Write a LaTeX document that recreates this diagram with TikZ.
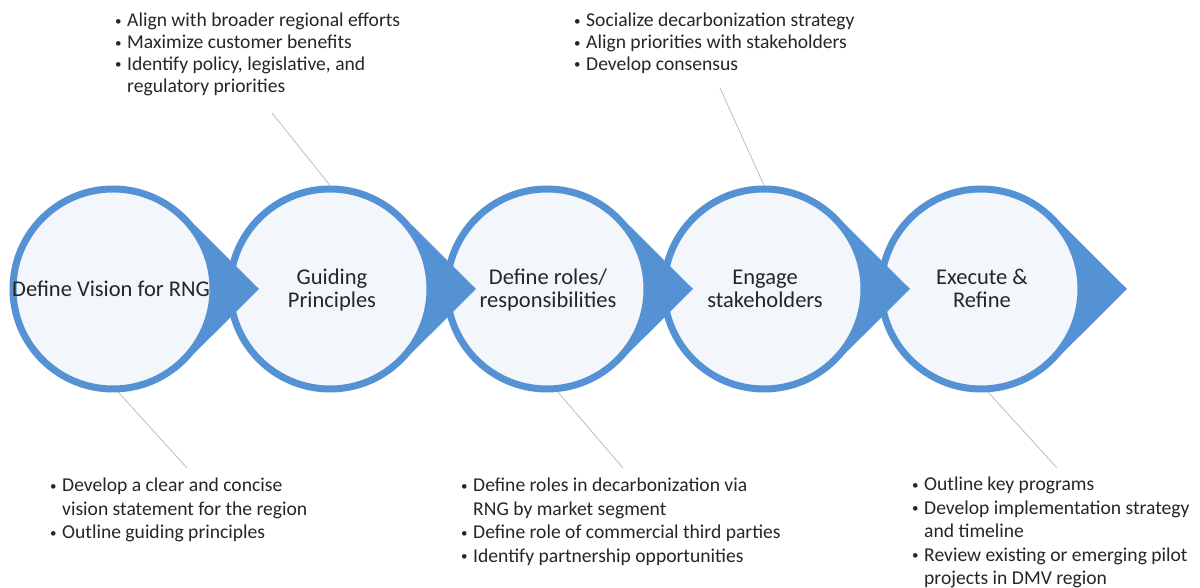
\documentclass[tikz,border=0pt]{standalone}
\usepackage{fontspec}
\setmainfont{Carlito}
\usetikzlibrary{calc}
\definecolor{rngblue}{RGB}{84,146,212}
\definecolor{rngfill}{RGB}{243,246,250}
\definecolor{rngline}{RGB}{165,186,208}
\definecolor{txt}{RGB}{38,38,38}
\newcommand{\bu}{\makebox[13pt][l]{\hspace{1pt}\raisebox{1.6pt}{\fontsize{13}{13}\selectfont\textbullet}}}
\begin{document}
\begin{tikzpicture}[x=1pt,y=1pt,
  stage/.style={circle, draw=rngblue, line width=7pt, fill=rngfill, minimum size=200pt, inner sep=0pt},
  lbl/.style={inner sep=0pt, anchor=base, text=txt, font=\fontsize{22.5}{22}\selectfont},
  blisttop/.style={inner sep=0pt, anchor=base west, text=txt, font=\fontsize{19.6}{21.7}\selectfont},
  blistbot/.style={inner sep=0pt, anchor=base west, text=txt, font=\fontsize{19.6}{23.4}\selectfont},
  tipfill/.style={fill=rngblue},
  leader/.style={draw=rngline, line width=0.7pt}]
\useasboundingbox (0,0) rectangle (1200,588);
\fill[white] (0,0) rectangle (1200,588);
% stages
\foreach \i/\x in {1/113,2/330,3/547,4/764,5/981}
  \node[stage] (c\i) at (\x,299) {};
% pointers
\foreach \i in {1,...,5}
  \fill[tipfill] ($(c\i.center)+(146,0)$) -- ($(c\i.center)+(72.7,73.0)$)
    arc[start angle=45.1,end angle=-45.1,radius=103pt] -- cycle;
% labels
\node[lbl] (t1) at (111,291) {Define Vision for RNG};
\node[lbl] (t2) at (332,303) {\begin{tabular}[t]{@{}c@{}}Guiding\\Principles\end{tabular}};
\node[lbl] (t3) at (548,303) {\begin{tabular}[t]{@{}c@{}}Define roles/\\responsibilities\end{tabular}};
\node[lbl] (t4) at (765,303) {\begin{tabular}[t]{@{}c@{}}Engage\\stakeholders\end{tabular}};
\node[lbl] (t5) at (982,303) {\begin{tabular}[t]{@{}c@{}}Execute \&\\Refine\end{tabular}};
% bullet blocks
\node[blisttop] (n2) at (114,561) {\begin{tabular}[t]{@{}l@{}l@{}}
\bu & Align with broader regional efforts\\
\bu & Maximize customer benefits\\
\bu & Identify policy, legislative, and\\
    & regulatory priorities
\end{tabular}};
\node[blisttop] (n4) at (573,561) {\begin{tabular}[t]{@{}l@{}l@{}}
\bu & Socialize decarbonization strategy\\
\bu & Align priorities with stakeholders\\
\bu & Develop consensus
\end{tabular}};
\node[blistbot] (n1) at (49,96) {\begin{tabular}[t]{@{}l@{}l@{}}
\bu & Develop a clear and concise\\
    & vision statement for the region\\
\bu & Outline guiding principles
\end{tabular}};
\node[blistbot] (n3) at (460,96) {\begin{tabular}[t]{@{}l@{}l@{}}
\bu & Define roles in decarbonization via\\
    & RNG by market segment\\
\bu & Define role of commercial third parties\\
\bu & Identify partnership opportunities
\end{tabular}};
\node[blistbot] (n5) at (911,97) {\begin{tabular}[t]{@{}l@{}l@{}}
\bu & Outline key programs\\
\bu & Develop implementation strategy\\
    & and timeline\\
\bu & Review existing or emerging pilot\\
    & projects in DMV region
\end{tabular}};
% leader lines
\coordinate (l2) at (272,475);
\coordinate (l4) at (720,500);
\coordinate (l1) at (187,120);
\coordinate (l3) at (623,120);
\coordinate (l5) at (1057,120);
\draw[leader] (l2) -- (c2.north);
\draw[leader] (l4) -- (c4.north);
\draw[leader] (c1.-87) -- (l1);
\draw[leader] (c3.-84) -- (l3);
\draw[leader] (c5.-86) -- (l5);
\end{tikzpicture}
\end{document}
